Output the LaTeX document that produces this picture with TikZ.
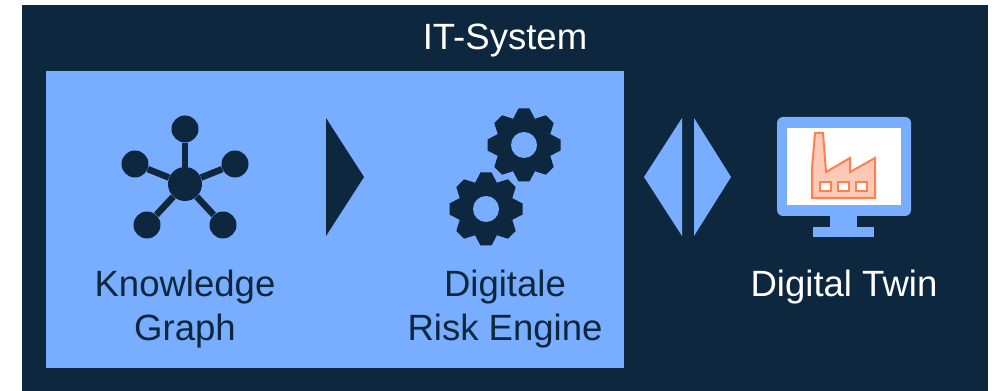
\documentclass[tikz,border=0pt]{standalone}
\usepackage{fontspec}
\setmainfont{Liberation Sans}
\definecolor{navy}{HTML}{0C273E}
\definecolor{skyblue}{HTML}{78ADFF}
\definecolor{factoryline}{HTML}{FF7F50}
\definecolor{factoryfill}{HTML}{FFC9B5}
\tikzset{
    label/.style={font=\fontsize{20.8}{25}\selectfont,align=center,text=navy},
    knot/.style={circle,fill=navy,inner sep=0pt,minimum size=0.54cm},
    hub/.style={circle,fill=navy,inner sep=0pt,minimum size=0.68cm},
    edge/.style={navy,line width=0.13cm},
    factory/.style={draw=factoryline,line width=0.04cm},
}
\newcommand{\gearicon}[2]{
    \fill[navy] (#1,#2) circle (28);
    \foreach \a in {0,45,...,315}
        {\fill[navy,shift={(#1,#2)},rotate=\a] (-11,-26) -- (-5.5,-36.5) -- (5.5,-36.5) -- (11,-26) -- cycle;
        }
    \fill[skyblue] (#1,#2) circle (13);
}
\begin{document}
\begin{tikzpicture}[x=0.02cm,y=-0.02cm]
    \useasboundingbox (0,0) rectangle (994,391);
    \fill[navy] (22,5) rectangle (988,391);
    \fill[skyblue] (46,71) rectangle (624,368);
    \node[label,text=white] (system) at (505,41) {IT-System};
    % graph icon
    \node[hub] (center) at (185,184) {};
    \node[knot] (top) at (185,129) {};
    \node[knot] (left) at (135,164) {};
    \node[knot] (right) at (235,164) {};
    \node[knot] (lowleft) at (147,225) {};
    \node[knot] (lowright) at (223,225) {};
    \foreach \n in {top,left,right,lowleft,lowright}
        {\draw[edge] (center) -- (\n);
        }
    \node[label] (graph) at (185,309) {Knowledge\\Graph};
    \fill[navy] (326,118) -- (364,177) -- (326,236) -- cycle;
    % gears
    \gearicon{524}{145}
    \gearicon{486}{209}
    \node[label] (engine) at (505,309) {Digitale\\Risk Engine};
    \fill[skyblue] (644,177) -- (682,118) -- (682,236) -- cycle;
    \fill[skyblue] (731,177) -- (694,118) -- (694,236) -- cycle;
    % monitor
    \fill[skyblue] (830,210) rectangle (857,230);
    \fill[skyblue] (813,227) rectangle (874,237);
    \fill[skyblue,rounded corners=0.12cm] (777,117) rectangle (911,216);
    \fill[white] (787,128) rectangle (901,205);
    \draw[factory,fill=factoryfill] (815,133) -- (823,133) -- (826,172) -- (850,158) -- (850,172)
        -- (875,158) -- (875,198) -- (812,198) -- (812,168) -- cycle;
    \foreach \x in {820,838,856}
        {\draw[factory,fill=white] (\x,182) rectangle ++(11,9);
        }
    \node[label,text=white] (twin) at (844,287) {Digital Twin};
\end{tikzpicture}
\end{document}
